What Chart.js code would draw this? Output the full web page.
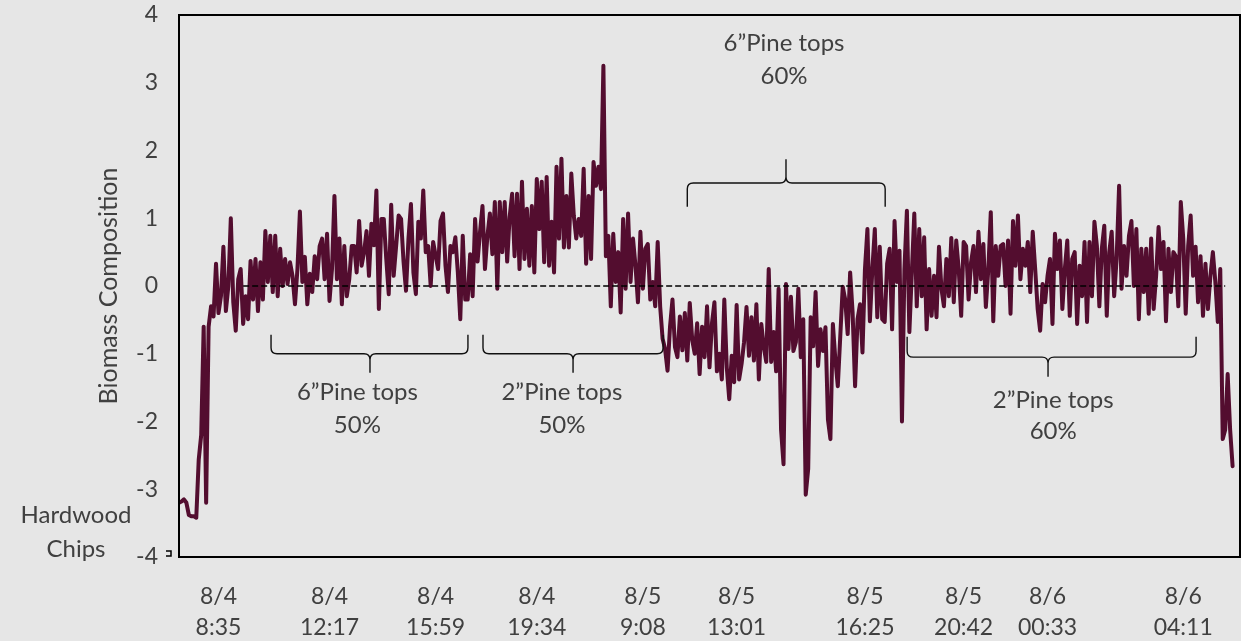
<!DOCTYPE html>
<html>
<head>
<meta charset="utf-8">
<script src="https://cdn.jsdelivr.net/npm/chart.js@4.4.1/dist/chart.umd.min.js"></script>
<style>
  html, body { margin: 0; padding: 0; background: #e6e6e6; }
  #wrap { width: 1241px; height: 641px; position: relative; }
</style>
</head>
<body>
<div id="wrap"><canvas id="chart" width="1241" height="641"></canvas></div>
<script>
// Biomass composition readings, one value per sample, in time order.
const startup = [-3.2, -3.18, -3.15, -3.2, -3.38, -3.4, -3.4, -3.42];
const block2 = [-2.56, -2.2, -0.6, -3.2, -0.6, -0.3, -0.45, 0.33, -0.4, -0.15, 0.58, -0.37, 0, 1.0, -0.24, -0.66, 0.1, 0.25, -0.56, -0.15, -0.49, 0.37, -0.2, 0.4, -0.37, 0.35, -0.2, 0.81, 0.06, 0.74, -0.09, 0.74, -0.15, 0.55, 0, 0.4, 0.03, 0.35, 0.15, -0.27, 0.25, 1.1, 0.06, 0.43, -0.27, 0.18, -0.09, 0.44, 0.1, 0.59, 0.7, 0.1, 0.77, -0.22, 0.25, 1.33, 0.1, 0.7, -0.27, 0.59, -0.15, 0.1, 0.59];
const block3 = [0.59, 0.2, 0.96, 0.3, 0.5, 0.81, 0.15, 0.92, 0.6, 1.41, -0.34, 0.99, 0.99, 0.4, -0.12, 1.2, 0.15, 0.59, 1.04, 0.99, 0.36, -0.07, 0.7, 1.21, 0.2, -0.12, 0.95, 0.7, 1.41, 0.5, 0.59, 0, 0.65, 0.45, 0.25, 0.96, 1.07, 0.3, -0.09, 0.59, 0.5, 0.72, 0.2, -0.49, 0.74, -0.2, -0.2, 0.47, -0.15, 0.99, 0.36, 0.8, 1.18, 0.25, 0.74, 1.07, 0.47, 1.24, -0.04, 1.24, 0.5, 1.24, 0.36, 1.02, 1.36, 0.44, 1.36, 0.25, 1.54, 0.4, 1.14, 0.3, 1.18, 0.2, 1.58, 0.84];
const block4 = [1.54, 0.35, 1.61, 0.3, 0.95, 0.2, 1.76, 0.7, 1.88, 0.57, 1.33, 0.57, 1.66, 1.04, 0.7, 0.99, 0.74, 1.73, 0.33, 1.33, 0.4, 1.83, 1.48, 1.76, 1.43, 3.25, 0.44, 0.74, -0.3, 0.77, 0.06, 0.5, -0.39, 0.99, -0.04, 1.07, 0.06, 0.7, 0.3, -0.24, 0.8, -0.04, 0.55, 0.62, -0.2, 0.06, -0.3, 0.65, -0.3, -0.78, -0.93];
const block5 = [-1.25, -0.6, -0.2, -0.9, -1.05, -0.45, -0.95, -0.4, -1.1, -0.25, -0.8, -1.0, -0.55, -1.3, -0.6, -1.05, -0.3, -1.2, -0.55, -0.24];
const block6 = [-1.26, -1.0, -1.38, -0.2, -1.2, -1.67, -1.03, -1.42, -0.28, -1.38, -1.15, -0.83, -0.31, -1.03, -0.46, -1.1, -0.27, -1.38, -0.56, -0.9, -1.12, 0.25, -1.12, -0.68, -1.26, -0.04, -2.12, -2.63, 0.03, -0.93, -0.16, -0.96, -0.83, -0.04, -1.05, -0.49, -3.08, -2.7, -0.46, -0.89, -0.09, -1.18, -0.64, -0.96, -0.61, -1.97, -2.26, -0.56, -1.08, -1.48, -0.74, -0.01, -0.2, -0.71, 0.2, -0.39, -1.48, -0.49, -0.27, -0.98, 0.25, 0.84, -0.52, 0.25, 0.84, -0.46, 0.58, -0.49, -0.53, 0.33, 0.55, -0.64, 0.96, 0.06, 0.52];
const block7 = [-2.0, 0.25, 1.11, -0.68, 0.2, 1.07, -0.3, 0.84, -0.15, 0.72, -0.64, 0.25, -0.44, 0.15, -0.46, 0.58, -0.04, -0.3, 0.4, -0.15, 0.71, -0.24, 0.67, 0.25, -0.44, 0.65, 0.59, -0.2, 0.35, 0.59, -0.09, 0.8, 0.1, 0.62, -0.31, 0.25, 1.09, -0.52, 0.59, 0.15, 0.59, 0.62, 0, 0.67, -0.41, 0.96, 0.3, 1.04, 0.1, 0.55, 0.3, 0.65, -0.09, 0.8, 0.25, -0.34, -0.66, 0.03, -0.24, 0.15, 0.4, -0.56, 0.77, 0.25, 0.67, -0.34, 0.25, 0.67, -0.44, 0.4, 0.5, -0.56, 0.3, -0.15];
const block8 = [0.65, -0.53, 0.65, -0.15, 0.95, 0.59, -0.3, 0.55, 0.89, -0.44, 0.5, 0.8, -0.15, 0.4, 1.48, -0.04, 0.59, 0.15, 0.74, 0.96, 0, 0.84, -0.49, 0.55, -0.09, 0.55, -0.41, 0.7, -0.34, 0.15, 0.87, 0.25, 0.65, -0.52, 0.55, -0.09, 0.5, 0.44, -0.3, 1.24, 0.7, -0.41, 0.59, 1.04, 0.15, 0.58, -0.24, 0.44, -0.44, 0.33, -0.34, 0.15, 0.5, 0.06, -0.53, 0.25, -2.26, -2.12, -1.3, -2.12, -2.66];

// Time-axis labels and the sample each one belongs to.
const tickSamples = [16, 61, 104, 145, 188, 226, 278, 318, 352, 407];
const tickDates = ['8/4', '8/4', '8/4', '8/4', '8/5', '8/5', '8/5', '8/5', '8/6', '8/6'];
const tickTimes = ['8:35', '12:17', '15:59', '19:34', '9:08', '13:01', '16:25', '20:42', '00:33', '04:11'];

// Zero reference line, first and last sample it covers.
const zeroFrom = 26;
const zeroTo = 424;

const composition = [].concat(startup, block2, block3, block4, block5, block6, block7, block8);
const series = composition.map((v, i) => ({ x: i, y: v }));
const zeroLine = [];
for (let i = zeroFrom; i <= zeroTo; i++) zeroLine.push({ x: i, y: 0 });

const INK = '#404040';
const FONT = 'Lato';

// Feedstock annotations: braces and labels placed in sample / value units.
const notes = [
  { lines: ['6\u201DPine tops', '50%'], cx: 72.3, rows: [-1.57, -2.05],
    brace: { from: 37.3, to: 117.1, mid: 77.4, end: -0.72, bar: -1.0, tip: -1.28 } },
  { lines: ['2\u201DPine tops', '50%'], cx: 155.2, rows: [-1.57, -2.05],
    brace: { from: 123.2, to: 196.2, mid: 159.7, end: -0.72, bar: -1.0, tip: -1.28 } },
  { lines: ['6\u201DPine tops', '60%'], cx: 245.2, rows: [3.58, 3.1],
    brace: { from: 206.0, to: 286.2, mid: 246.0, end: 1.17, bar: 1.52, tip: 1.87 } },
  { lines: ['2\u201DPine tops', '60%'], cx: 354.3, rows: [-1.68, -2.15],
    brace: { from: 295.1, to: 412.2, mid: 352.2, end: -0.75, bar: -1.05, tip: -1.34 } }
];

function drawBrace(ctx, x0, x1, xc, yEnd, yBar, yTip) {
  const d = Math.sign(yTip - yBar);
  const r = 6;
  ctx.beginPath();
  ctx.moveTo(x0, yEnd);
  ctx.lineTo(x0, yBar - d * r);
  ctx.quadraticCurveTo(x0, yBar, x0 + r, yBar);
  ctx.lineTo(xc - r, yBar);
  ctx.quadraticCurveTo(xc, yBar, xc, yBar + d * r);
  ctx.lineTo(xc, yTip);
  ctx.moveTo(xc, yBar + d * r);
  ctx.quadraticCurveTo(xc, yBar, xc + r, yBar);
  ctx.lineTo(x1 - r, yBar);
  ctx.quadraticCurveTo(x1, yBar, x1, yBar - d * r);
  ctx.lineTo(x1, yEnd);
  ctx.stroke();
}

const backdrop = {
  id: 'backdrop',
  beforeDraw(chart) {
    const ctx = chart.ctx;
    ctx.save();
    ctx.fillStyle = '#e6e6e6';
    ctx.fillRect(0, 0, chart.width, chart.height);
    ctx.restore();
  }
};

const frame = {
  id: 'frame',
  afterDraw(chart) {
    const { ctx, chartArea: a, scales } = chart;
    ctx.save();
    ctx.strokeStyle = '#000';
    ctx.lineWidth = 2;
    ctx.strokeRect(a.left, a.top, a.right - a.left, a.bottom - a.top);

    // small bracket mark beside the lowest tick
    ctx.lineWidth = 1.5;
    ctx.beginPath();
    ctx.moveTo(a.left - 13, a.bottom - 6);
    ctx.lineTo(a.left - 8, a.bottom - 6);
    ctx.lineTo(a.left - 8, a.bottom - 1);
    ctx.lineTo(a.left - 13, a.bottom - 1);
    ctx.stroke();

    // braces and feedstock labels
    const x = scales.x, y = scales.y;
    ctx.strokeStyle = '#111';
    ctx.lineWidth = 1.4;
    ctx.fillStyle = INK;
    ctx.textAlign = 'center';
    ctx.textBaseline = 'middle';
    ctx.font = '24px ' + FONT;
    notes.forEach(n => {
      const b = n.brace;
      drawBrace(ctx, x.getPixelForValue(b.from), x.getPixelForValue(b.to), x.getPixelForValue(b.mid),
        y.getPixelForValue(b.end), y.getPixelForValue(b.bar), y.getPixelForValue(b.tip));
      n.lines.forEach((t, k) => ctx.fillText(t, x.getPixelForValue(n.cx), y.getPixelForValue(n.rows[k])));
    });

    // starting feedstock, beside the value axis
    ctx.fillText('Hardwood', a.left - 103, y.getPixelForValue(-3.38));
    ctx.fillText('Chips', a.left - 103, y.getPixelForValue(-3.88));
    ctx.restore();
  }
};

new Chart(document.getElementById('chart'), {
  type: 'line',
  data: {
    datasets: [
      {
        label: 'Zero',
        data: zeroLine,
        borderColor: '#000',
        borderWidth: 1.5,
        borderDash: [6, 3],
        pointRadius: 0,
        order: 0
      },
      {
        label: 'Biomass Composition',
        data: series,
        borderColor: '#530d2f',
        borderWidth: 4,
        borderJoinStyle: 'round',
        borderCapStyle: 'round',
        pointRadius: 0,
        tension: 0,
        order: 1
      }
    ]
  },
  options: {
    responsive: false,
    animation: false,
    devicePixelRatio: 1,
    layout: { padding: { top: 15, right: 1, left: 0, bottom: 0 } },
    plugins: { legend: { display: false }, tooltip: { enabled: false } },
    scales: {
      x: {
        type: 'linear',
        min: 0,
        max: 430,
        grid: { display: false, drawTicks: false },
        border: { display: false },
        afterBuildTicks: s => { s.ticks = tickSamples.map(v => ({ value: v })); },
        afterFit: s => { s.height = 84; s.paddingLeft = 0; s.paddingRight = 0; },
        ticks: {
          autoSkip: false,
          maxRotation: 0,
          minRotation: 0,
          padding: 24,
          color: INK,
          font: { family: FONT, size: 23, lineHeight: 1.35 },
          callback: v => {
            const k = tickSamples.indexOf(v);
            return k < 0 ? '' : [tickDates[k], tickTimes[k]];
          }
        }
      },
      y: {
        min: -4,
        max: 4,
        grid: { display: false, drawTicks: false },
        border: { display: false },
        afterFit: s => { s.width = 179; s.paddingTop = 0; s.paddingBottom = 0; },
        ticks: {
          stepSize: 1,
          padding: 21,
          color: INK,
          font: { family: FONT, size: 23 }
        },
        title: {
          display: true,
          text: 'Biomass Composition',
          color: INK,
          font: { family: FONT, size: 25 },
          padding: { top: 94, bottom: 0 }
        }
      }
    }
  },
  plugins: [backdrop, frame]
});
</script>
</body>
</html>
